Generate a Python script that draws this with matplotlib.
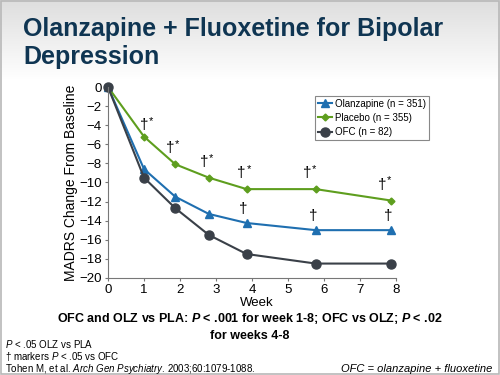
import numpy as np
import matplotlib
matplotlib.use("Agg")
import matplotlib.pyplot as plt

# data
weeks = [0, 1, 1.87, 2.8, 3.85, 5.77, 7.87]
olz = [0, -8.6, -11.5, -13.3, -14.25, -15.0, -15.0]
pla = [0, -5.2, -8.1, -9.5, -10.7, -10.7, -11.9]
ofc = [0, -9.5, -12.7, -15.5, -17.5, -18.5, -18.5]
labels = ['Olanzapine (n = 351)', 'Placebo (n = 355)', 'OFC (n = 82)']
pla_marks = [1, 2, 3, 4, 5, 6]   # points with "†*"
olz_marks = [4, 5, 6]            # points with "†"

plt.rcParams['font.family'] = ['Liberation Sans', 'DejaVu Sans']
plt.rcParams['mathtext.fontset'] = 'custom'
plt.rcParams['mathtext.rm'] = 'Liberation Sans'
plt.rcParams['mathtext.it'] = 'Liberation Sans:italic'
plt.rcParams['mathtext.bf'] = 'Liberation Sans:bold'
plt.rcParams['mathtext.bfit'] = 'Liberation Sans:italic:bold'

fig = plt.figure(figsize=(5, 3.75), dpi=100)

# slide background: gray gradient at the top
bg = fig.add_axes([0, 0, 1, 1], zorder=-10)
grad = np.ones((375, 1))
grad[:80, 0] = np.linspace(0.87, 1.0, 80)
bg.imshow(np.dstack([grad, grad, grad]), aspect='auto', extent=[0, 1, 0, 1],
          interpolation='bilinear')
bg.add_patch(plt.Rectangle((0.002, 0.003), 0.996, 0.994, fill=False,
                           ec='#b8b8b8', lw=1.2, transform=bg.transAxes))
bg.set_xlim(0, 1); bg.set_ylim(0, 1)
bg.axis('off')

fig.text(0.046, 0.903, 'Olanzapine + Fluoxetine for Bipolar', fontsize=18,
         fontweight='bold', color='#0f3552', va='baseline')
fig.text(0.046, 0.83, 'Depression', fontsize=18,
         fontweight='bold', color='#0f3552', va='baseline')

ax = fig.add_axes([0.216, 0.259, 0.576, 0.509])
ax.plot(weeks, olz, color='#1f6fb0', marker='^', ms=6, lw=1.5, label=labels[0])
ax.plot(weeks, pla, color='#5e9e1e', marker='D', ms=3.5, lw=1.5, label=labels[1])
ax.plot(weeks, ofc, color='#3a4048', marker='o', ms=6.5, lw=1.5, label=labels[2])

for i in pla_marks:
    dx = 0 if i == 1 else (-5 if i < 5 else -9)
    dy = 5 if i == 1 else 9
    ax.annotate('†', (weeks[i], pla[i]), xytext=(dx, dy), textcoords='offset pixels',
                ha='center', va='bottom', fontsize=11)
    ax.annotate('*', (weeks[i], pla[i]), xytext=(dx + 7, dy + 6), textcoords='offset pixels',
                ha='center', va='bottom', fontsize=8)
for i in olz_marks:
    ax.annotate('†', (weeks[i], olz[i]), xytext=(-3, 7), textcoords='offset pixels',
                ha='center', va='bottom', fontsize=11)

ax.set_xlim(0, 8)
ax.set_ylim(-20, 0)
ax.set_xticks(range(0, 9))
ax.set_yticks(range(-20, 1, 2))
ax.tick_params(labelsize=9.5, length=2.5, pad=2, color='#777777')
ax.spines['top'].set_visible(False)
ax.spines['right'].set_visible(False)
for s in ('left', 'bottom'):
    ax.spines[s].set_color('#777777')
ax.set_facecolor('none')
for ln in ax.lines:
    ln.set_clip_on(False)
ax.set_ylabel('MADRS Change From Baseline', fontsize=10, labelpad=1)
fig.text(0.514, 0.193, 'Week', ha='center', va='center', fontsize=9.5)

leg = ax.legend(loc='upper left', bbox_to_anchor=(0.72, 0.955), fontsize=7,
                fancybox=False, edgecolor='#888888', handlelength=1.4,
                borderpad=0.3, labelspacing=0.45, handletextpad=0.3,
                borderaxespad=0, framealpha=1)
leg.get_frame().set_linewidth(0.8)

fig.text(0.5, 0.141, r'OFC and OLZ vs PLA: $\mathbfit{P}$ < .001 for week 1-8; OFC vs OLZ; $\mathbfit{P}$ < .02',
         ha='center', fontsize=9, fontweight='bold')
fig.text(0.5, 0.096, 'for weeks 4-8', ha='center', fontsize=9, fontweight='bold')

fig.text(0.01, 0.071, r'$\it{P}$ < .05 OLZ vs PLA', fontsize=7)
fig.text(0.01, 0.04, r'† markers $\it{P}$ < .05 vs OFC', fontsize=7)
fig.text(0.01, 0.008, r'Tohen M, et al. $\it{Arch\ Gen\ Psychiatry}$. 2003;60:1079-1088.', fontsize=7)
fig.text(0.985, 0.008, 'OFC = olanzapine + fluoxetine', fontsize=8,
         style='italic', ha='right')

fig.savefig('out.png', dpi=100)
